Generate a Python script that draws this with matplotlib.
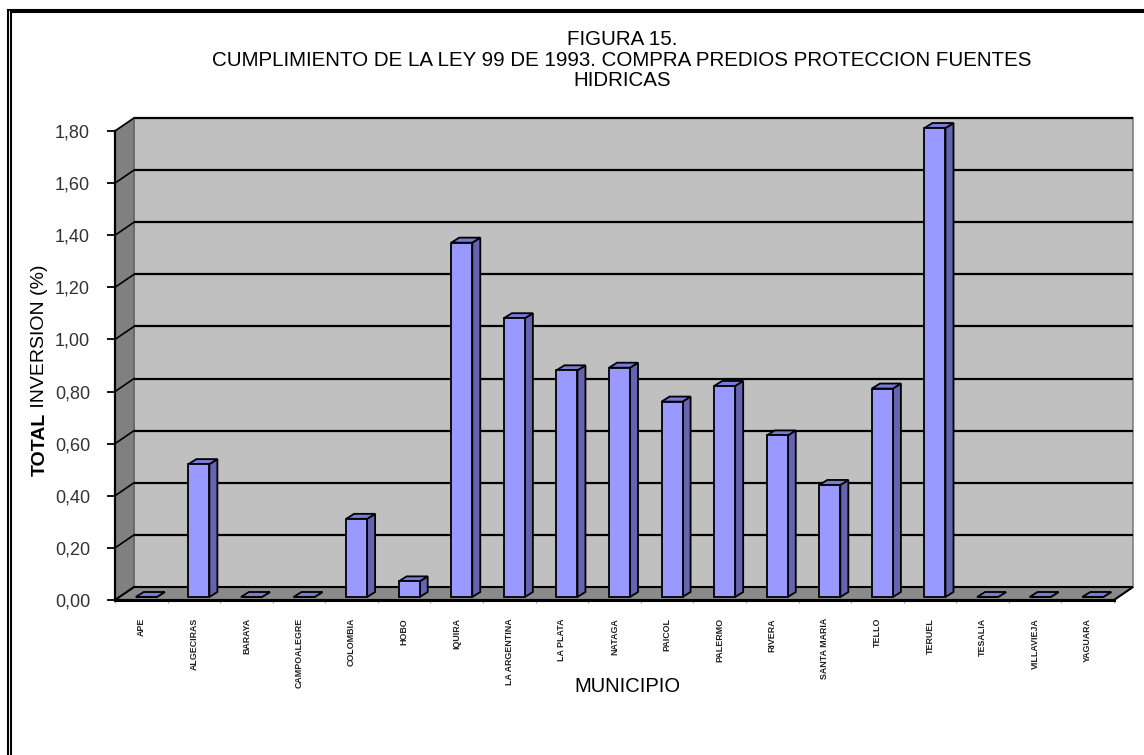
import matplotlib
matplotlib.use("Agg")
import matplotlib.pyplot as plt
from matplotlib.patches import Polygon, Rectangle
import numpy as np

plt.rcParams['font.family'] = ['Liberation Sans', 'DejaVu Sans']

# data
municipios = ['APE', 'ALGECIRAS', 'BARAYA', 'CAMPOALEGRE', 'COLOMBIA', 'HOBO',
              'IQUIRA', 'LA ARGENTINA', 'LA PLATA', 'NATAGA', 'PAICOL', 'PALERMO',
              'RIVERA', 'SANTA MARIA', 'TELLO', 'TERUEL', 'TESALIA', 'VILLAVIEJA',
              'YAGUARA']
inversion = [0.00, 0.51, 0.00, 0.00, 0.30, 0.06, 1.36, 1.07, 0.87, 0.88, 0.75,
             0.81, 0.62, 0.43, 0.80, 1.80, 0.00, 0.00, 0.00]
yticks = [0.0, 0.2, 0.4, 0.6, 0.8, 1.0, 1.2, 1.4, 1.6, 1.8]

W_PX, H_PX = 1144, 755
fig = plt.figure(figsize=(W_PX / 100, H_PX / 100), dpi=100)

# front plane of the 3d box in pixels
left, right, top, bottom = 115, 1114, 131, 600
ax = fig.add_axes([left / W_PX, 1 - bottom / H_PX, (right - left) / W_PX, (bottom - top) / H_PX])
n = len(municipios)
x0, x1 = -0.5, n - 0.5
ymax = 1.8
ax.set_xlim(x0, x1)
ax.set_ylim(0, ymax)
ax.patch.set_alpha(0)

ux = (right - left) / (x1 - x0)   # px per category
uy = (bottom - top) / ymax       # px per unit


def off(dxp, dyp):
    return dxp / ux, dyp / uy


# walls and floor
wdx, wdy = off(19, 13)
back = Rectangle((x0 + wdx, wdy), x1 - x0, ymax, facecolor='#c0c0c0',
                 edgecolor='#808080', lw=1.2, clip_on=False, zorder=0)
ax.add_patch(back)
lwall = Polygon([(x0, 0), (x0, ymax), (x0 + wdx, ymax + wdy), (x0 + wdx, wdy)],
                closed=True, facecolor='#808080', edgecolor='#606060', lw=1,
                clip_on=False, zorder=0.5)
ax.add_patch(lwall)
floor = Polygon([(x0, 0), (x1, 0), (x1 + wdx, wdy), (x0 + wdx, wdy)],
                closed=True, facecolor='#8a8a8a', edgecolor='black', lw=1.5,
                clip_on=False, zorder=0.6)
ax.add_patch(floor)

for v in yticks[1:]:
    ax.plot([x0 + wdx, x1 + wdx], [v + wdy, v + wdy], color='black', lw=1.6,
            clip_on=False, zorder=1, solid_capstyle='butt')
    ax.plot([x0, x0 + wdx], [v, v + wdy], color='black', lw=1.2,
            clip_on=False, zorder=1)

# bars
bw = 0.40
fdx, fdy = off(5, 3)
ddx, ddy = off(8, 5)
for i, v in enumerate(inversion):
    xl = i - bw / 2 + fdx
    xr = i + bw / 2 + fdx
    yb = fdy
    yt = fdy + v
    front = Polygon([(xl, yb), (xr, yb), (xr, yt), (xl, yt)], closed=True,
                    facecolor='#9999ff', edgecolor='black', lw=1.3, clip_on=False, zorder=3)
    side = Polygon([(xr, yb), (xr + ddx, yb + ddy), (xr + ddx, yt + ddy), (xr, yt)],
                   closed=True, facecolor='#6464b0', edgecolor='black', lw=1.3,
                   clip_on=False, zorder=3)
    topf = Polygon([(xl, yt), (xr, yt), (xr + ddx, yt + ddy), (xl + ddx, yt + ddy)],
                   closed=True, facecolor='#7a7ad8', edgecolor='black', lw=1.3,
                   clip_on=False, zorder=3)
    for p in (side, topf, front):
        ax.add_patch(p)

# axes, ticks
for s in ['top', 'right']:
    ax.spines[s].set_visible(False)
ax.spines['left'].set_linewidth(1.6)
ax.spines['bottom'].set_linewidth(2.2)
ax.spines['left'].set_zorder(4)
ax.spines['bottom'].set_zorder(4)

ax.set_yticks(yticks)
ax.set_yticklabels([f"{v:.2f}".replace('.', ',') for v in yticks])
ax.tick_params(axis='y', length=6, width=1.3, pad=12, labelsize=13, labelcolor='#333333')

ax.set_xticks(range(n))
ax.set_xticklabels(municipios, rotation=90, fontsize=6.4, fontweight='bold', color='#222222')
ax.tick_params(axis='x', which='major', length=0, pad=13)
ax.set_xticks(np.arange(x0, x1 + 0.01, 1), minor=True)
ax.tick_params(axis='x', which='minor', length=2, width=0.8, color='#999999')

# texts
fig.text(622 / W_PX, 1 - 60 / H_PX,
         "FIGURA 15.\nCUMPLIMIENTO DE LA LEY 99 DE 1993. COMPRA PREDIOS PROTECCION FUENTES\nHIDRICAS",
         ha='center', va='center', fontsize=14.8, linespacing=1.12)
fig.text(627 / W_PX, 1 - 686 / H_PX, "MUNICIPIO", ha='center', va='center', fontsize=14.5)

t1 = fig.text(40 / W_PX, 1 - 476 / H_PX, "TOTAL", rotation=90, ha='center', va='bottom',
              fontsize=14, fontweight='bold')
ax.annotate(" INVERSION (%)", xy=(0.5, 1.0), xycoords=t1, rotation=90,
            ha='center', va='bottom', fontsize=14, annotation_clip=False)

# outer frame
fig.patches.append(Rectangle((7.5 / W_PX, -0.2), 1.5, 1.2 - 9.5 / H_PX, fill=False,
                             edgecolor='black', lw=1.5, transform=fig.transFigure, figure=fig))
fig.patches.append(Rectangle((11 / W_PX, -0.2), 1.5, 1.2 - 12 / H_PX, fill=False,
                             edgecolor='black', lw=1.5, transform=fig.transFigure, figure=fig))

fig.savefig('out.png', dpi=100)
